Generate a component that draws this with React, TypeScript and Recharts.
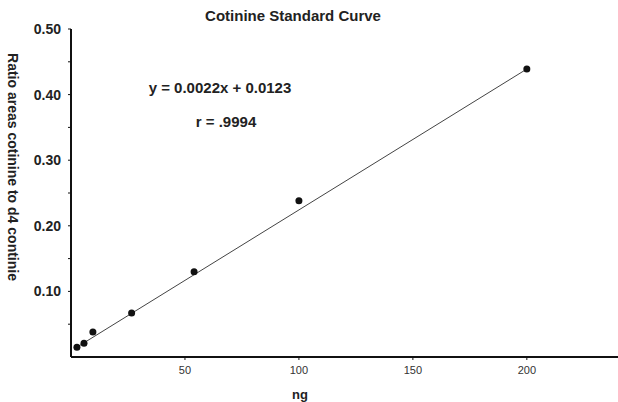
import { ScatterChart, Scatter, XAxis, YAxis, Label } from 'recharts'

// calibration points (ng vs peak area ratio)
const ngAmounts = [2.6, 5.7, 9.6, 26.6, 54, 100, 200]
const areaRatios = [0.015, 0.021, 0.038, 0.067, 0.13, 0.238, 0.439]

// ends of the drawn fit line
const fitNg = [2.6, 200]
const fitRatio = [0.015, 0.439]

const xTicks = [50, 100, 150, 200]
const yTicks = [0.05, 0.1, 0.15, 0.2, 0.25, 0.3, 0.35, 0.4, 0.45, 0.5]

const points = ngAmounts.map((x, i) => ({ x, y: areaRatios[i] }))
const fitLine = fitNg.map((x, i) => ({ x, y: fitRatio[i] }))

const FONT = '"Liberation Sans", Arial, sans-serif'

const yTickFormat = (v: number) => (Math.round(v * 100) % 10 === 0 ? v.toFixed(2) : '')

const Dot = (props: any) => <circle cx={props.cx} cy={props.cy} r={3.5} fill="#111" />

export default function App() {
  return (
    <div style={{ position: 'absolute', left: 0, top: 0, background: '#fff', fontFamily: FONT }}>
      <ScatterChart width={618} height={402} margin={{ top: 29, right: 0, bottom: 0, left: 0 }}>
        <text x={293} y={21} textAnchor="middle" fontSize={15} fontWeight="bold" fill="#222" fontFamily={FONT}>
          Cotinine Standard Curve
        </text>
        <text x={220} y={93} textAnchor="middle" fontSize={15} fontWeight="bold" fill="#222" fontFamily={FONT}>
          y = 0.0022x + 0.0123
        </text>
        <text x={226} y={127} textAnchor="middle" fontSize={15} fontWeight="bold" fill="#222" fontFamily={FONT}>
          r = .9994
        </text>
        <text
          x={13}
          y={167}
          transform="rotate(90 13 167)"
          textAnchor="middle"
          dominantBaseline="central"
          fontSize={14}
          fontWeight="bold"
          fill="#222"
          fontFamily={FONT}
        >
          Ratio areas cotinine to d4 continie
        </text>
        <XAxis
          type="number"
          dataKey="x"
          domain={[0, 240]}
          ticks={xTicks}
          height={45}
          allowDataOverflow
          axisLine={{ stroke: '#111', strokeWidth: 2 }}
          tickLine={{ stroke: '#111' }}
          tickSize={3}
          tickMargin={6}
          tick={{ fontSize: 11, fill: '#333', fontFamily: FONT }}
        >
          <Label
            content={() => (
              <text x={300} y={399} textAnchor="middle" fontSize={13} fontWeight="bold" fill="#222" fontFamily={FONT}>
                ng
              </text>
            )}
          />
        </XAxis>
        <YAxis
          type="number"
          dataKey="y"
          domain={[0, 0.5]}
          ticks={yTicks}
          width={71}
          allowDataOverflow
          axisLine={{ stroke: '#111', strokeWidth: 2 }}
          tickLine={{ stroke: '#111' }}
          tickSize={3}
          tickMargin={7}
          tickFormatter={yTickFormat}
          tick={{ fontSize: 14, fontWeight: 'bold', fill: '#222', fontFamily: FONT }}
        />
        <Scatter
          data={fitLine}
          line={{ stroke: '#444', strokeWidth: 1 }}
          lineType="joint"
          shape={() => <g />}
          isAnimationActive={false}
        />
        <Scatter data={points} shape={Dot} isAnimationActive={false} />
      </ScatterChart>
    </div>
  )
}
